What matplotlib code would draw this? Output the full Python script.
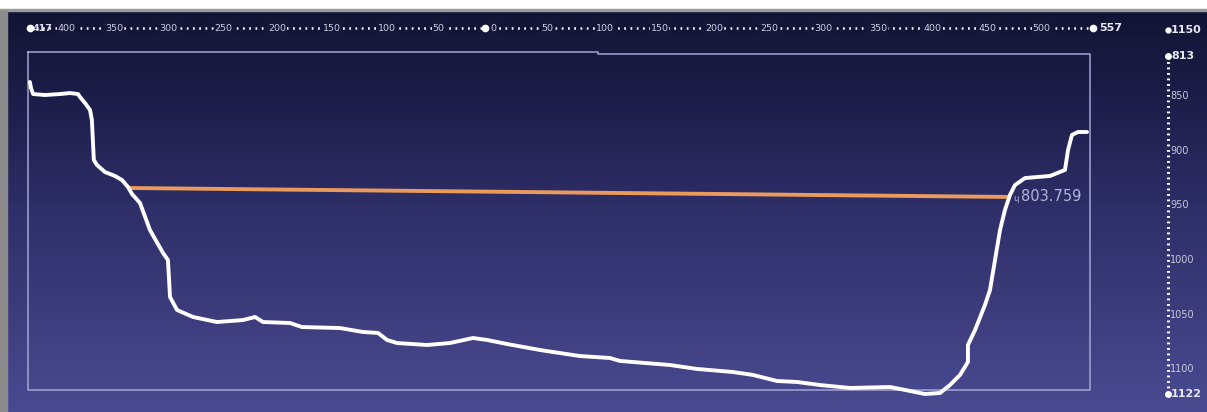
import numpy as np
import matplotlib
matplotlib.use("Agg")
import matplotlib.pyplot as plt
from matplotlib.colors import LinearSegmentedColormap
from matplotlib.patches import Rectangle

# ---------------- data ----------------
profile_x = [-417, -416, -414.1, -403.2, -389.4, -380.2, -372.9, -371.1, -366.5, -361.9,
             -360.2, -359.3, -358.4, -355.5, -348.2, -339.0, -332.6, -327.1, -323.4, -316.1,
             -307.0, -295.0, -290.5, -288.6, -282.2, -267.5, -245.6, -221.7, -210.7, -203.4,
             -178.7, -167.7, -132.9, -111.8, -98.0, -89.8, -80.6, -53.1, -32.1, -11.0,
             1.8, 20.2, 50.4, 62.3, 87.0, 114.5, 123.7, 169.5, 194.2, 227.2,
             245.6, 267.5, 285.9, 306.9, 334.4, 371.1, 384.8, 403.1, 416.9, 426.0,
             435.2, 442.5, 442.5, 449.0, 458.1, 462.7, 467.3, 471.9, 476.4, 481.0,
             485.6, 494.8, 517.7, 531.4, 534.2, 537.8, 543.3, 551.6]
profile_depth = [837.2, 842.7, 848.2, 849.1, 848.2, 847.3, 848.2, 850.9, 856.4, 862.8,
                 871.9, 890.2, 908.5, 913.1, 919.5, 923.1, 926.8, 933.2, 939.6, 947.8,
                 972.5, 993.5, 999.9, 1033.7, 1045.6, 1052.0, 1056.6, 1054.8, 1052.0, 1056.6,
                 1057.5, 1061.2, 1062.1, 1065.7, 1066.6, 1073.0, 1075.8, 1077.6, 1075.8, 1071.2,
                 1073.0, 1076.7, 1082.2, 1084.0, 1087.7, 1089.5, 1092.2, 1095.9, 1099.5, 1102.3,
                 1105.0, 1110.5, 1111.4, 1114.2, 1116.9, 1116.0, 1118.7, 1122.4, 1121.5, 1114.2,
                 1105.0, 1093.1, 1077.6, 1063.9, 1041.0, 1027.3, 999.9, 972.5, 954.2, 940.5,
                 931.4, 925.0, 923.1, 917.6, 899.4, 885.6, 882.9, 882.9]
water_x = [-325.3, 481.0]
water_depth = [934.1, 942.3]
water_label = "803.759"

top_ticks = list(range(-400, 501, 50))
top_tick_labels = [str(abs(v)) for v in top_ticks]
top_min, top_max = -417, 557
right_ticks = [850, 900, 950, 1000, 1050, 1100]
right_tick_labels = [str(v) for v in right_ticks]
right_min, right_max = 813, 1122
corner_label = "1150"

# ---------------- figure / pixel mapping ----------------
W, H = 1207, 412
X0, SX, Y0, SY = 485.0, 1.0914, 96.0, 1.094


def px2x(px):
    return (px - X0) / SX


def py2d(py):
    return 850 + (py - Y0) / SY


fig = plt.figure(figsize=(W / 100, H / 100), dpi=100)
ax = fig.add_axes([0, 0, 1, 1])
xl0, xl1 = px2x(0), px2x(W)
ybot, ytop = py2d(H), py2d(0)

# background gradient
cmap = LinearSegmentedColormap.from_list(
    "bg", ["#111332", "#1d1e4a", "#2e2e68", "#3c3c7c", "#4a4a92"])
grad = np.linspace(0, 1, 256).reshape(-1, 1)
ax.imshow(grad, extent=[xl0, xl1, ybot, ytop], origin="upper", aspect="auto",
          cmap=cmap, zorder=0)
ax.set_xlim(xl0, xl1)
ax.set_ylim(ybot, ytop)
ax.axis("off")

# screenshot borders
ax.add_patch(Rectangle((0, 1 - 9 / H), 1, 9 / H, transform=ax.transAxes,
                       color="white", zorder=7))
ax.add_patch(Rectangle((0, 1 - 11 / H), 1, 2 / H, transform=ax.transAxes,
                       color="#9a9a9a", zorder=7))
ax.add_patch(Rectangle((0, 0), 7 / W, 1 - 11 / H, transform=ax.transAxes,
                       color="#8c8c8c", zorder=7))

# frame
fc = "#a4a4d4"
ax.plot([px2x(28), px2x(598), px2x(598), px2x(1090), px2x(1090), px2x(28), px2x(28)],
        [py2d(52), py2d(52), py2d(54), py2d(54), py2d(390), py2d(390), py2d(52)],
        color=fc, lw=1.1, zorder=2)

# profile
ax.plot(profile_x, profile_depth, color="white", lw=2.8, solid_joinstyle="round",
        solid_capstyle="round", zorder=4)

# water line
ax.plot(water_x, water_depth, color="#eb9a5e", lw=2.8, solid_capstyle="butt", zorder=3)
ax.text(water_x[1] + 3 / SX, water_depth[1] + 1, "ɥ", color="#b4b4dc", fontsize=6,
        ha="left", va="center", zorder=4)
ax.text(water_x[1] + 11 / SX, water_depth[1], water_label, color="#b4b4dc",
        fontsize=10.5, ha="left", va="center", zorder=4)

# top dotted axis
top_d = py2d(28)
ax.plot([top_min, top_max], [top_d, top_d], color="white", lw=1.8,
        linestyle=(0, (0.7, 1.8)), dash_capstyle="butt", zorder=3)
ax.plot([top_min, 0, top_max], [top_d] * 3, "o", color="white", ms=4.5, zorder=6)
for v, lab in zip(top_ticks, top_tick_labels):
    off = 9 if v == top_ticks[0] else (5 if v == 0 else 2)
    ax.text(v + off / SX, top_d, lab, color="#cfcfe2", fontsize=6.8, ha="left",
            va="center", zorder=4,
            bbox=dict(facecolor="#14163a", edgecolor="none", pad=0.4))
ax.text(top_min + 3 / SX, top_d, str(abs(top_min)), color="#e0e0ee", fontsize=6.8,
        fontweight="bold", ha="left", va="center", zorder=5)
ax.text(top_max + 6 / SX, top_d, str(top_max), color="#e8e8f2", fontsize=8,
        fontweight="bold", ha="left", va="center", zorder=4)

# right dotted axis
rx = px2x(1168)
ax.plot([rx, rx], [right_min, right_max], color="white", lw=2.2,
        linestyle=(0, (0.6, 1.2)), dash_capstyle="butt", zorder=3)
ax.plot([rx, rx], [right_min, right_max], "o", color="white", ms=4, zorder=6)
for v, lab in zip(right_ticks, right_tick_labels):
    ax.text(rx + 2 / SX, v, lab, color="#c8c8dc", fontsize=7, ha="left",
            va="center", zorder=4)
ax.text(rx + 3 / SX, right_min, str(right_min), color="#e8e8f2", fontsize=8,
        fontweight="bold", ha="left", va="center", zorder=4)
ax.text(rx + 3 / SX, right_max, str(right_max), color="#e8e8f2", fontsize=8,
        fontweight="bold", ha="left", va="center", zorder=4)
ax.plot([rx], [py2d(30)], "o", color="white", ms=3.5, zorder=6)
ax.text(rx + 3 / SX, py2d(30), corner_label, color="#e8e8f2", fontsize=8,
        fontweight="bold", ha="left", va="center", zorder=4)

fig.savefig("out.png", dpi=100)
